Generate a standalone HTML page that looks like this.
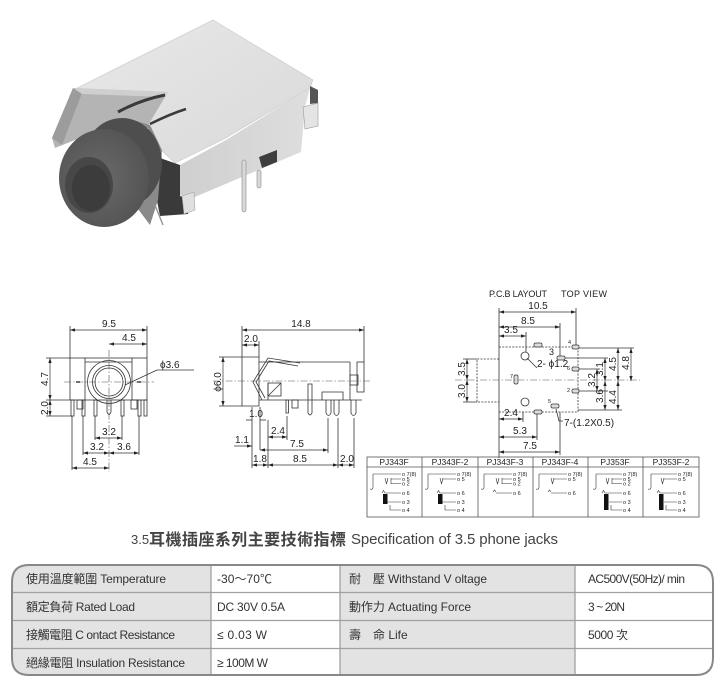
<!DOCTYPE html>
<html><head><meta charset="utf-8"><style>
html,body{margin:0;padding:0;background:#fff;}
svg{display:block;}
.t{font-family:"Liberation Sans",sans-serif;font-size:10px;fill:#222;}
.s{font-family:"Liberation Sans",sans-serif;font-size:5.5px;fill:#222;}
.h{font-family:"Liberation Sans",sans-serif;font-size:8.5px;fill:#222;}
.c{font-family:"Liberation Sans","Noto Sans CJK TC",sans-serif;font-size:12px;fill:#333;}
.ln{stroke:#333;stroke-width:0.8;fill:none;}
.cl{stroke:#555;stroke-width:0.6;fill:none;stroke-dasharray:7,2,1.5,2;}
.dl{stroke:#333;stroke-width:0.7;fill:none;marker-start:url(#ar);marker-end:url(#ar);}
</style></head><body>
<svg width="721" height="682" viewBox="0 0 721 682" xmlns="http://www.w3.org/2000/svg">
<defs>
<marker id="ar" viewBox="0 0 6 4" refX="6" refY="2" markerWidth="5" markerHeight="3.4" orient="auto-start-reverse" markerUnits="userSpaceOnUse"><path d="M0,0L6,2L0,4z" fill="#222"/></marker>
<linearGradient id="gt" x1="0" y1="0" x2="1" y2="1"><stop offset="0" stop-color="#e8e8e8"/><stop offset="1" stop-color="#d9d9d9"/></linearGradient>
<linearGradient id="gs" x1="0" y1="0" x2="1" y2="0"><stop offset="0" stop-color="#cfcfcf"/><stop offset="1" stop-color="#dedede"/></linearGradient>
<radialGradient id="gc" cx="0.45" cy="0.5" r="0.6"><stop offset="0" stop-color="#6a6a6a"/><stop offset="1" stop-color="#525252"/></radialGradient>
<clipPath id="tc"><path d="M29,565H696Q713,565 713,582V658Q713,675 696,675H29Q12,675 12,658V582Q12,565 29,565Z"/></clipPath>
</defs>

<!-- ===== PRODUCT PHOTO ===== -->
<g>
<polygon points="213,20 313,80 310,88 224,139 175,163 143,133 77,88" fill="url(#gt)" stroke="#c8c8c8" stroke-width="0.6"/>
<polygon points="180,165 226,140 310,88 305,107 303,130 301,152 190,199 180,195" fill="url(#gs)"/>
<polygon points="160,158 180,165 180,196 190,199 188,214 160,216 152,175" fill="#3a3a3a"/>
<polygon points="303,107 318,103 318,126 305,129" fill="#e4e4e4" stroke="#999" stroke-width="0.6"/>
<polygon points="310,86 318,90 318,103 310,104" fill="#555"/>
<polygon points="182,196 194,192 195,210 184,214" fill="#e0e0e0" stroke="#999" stroke-width="0.5"/>
<polygon points="259,157 277,150 277,162 262,168" fill="#3e3e3e"/>
<rect x="242" y="160" width="4" height="52" rx="2" fill="#d8d8d8" stroke="#888" stroke-width="0.6"/>
<rect x="257" y="170" width="4" height="18" rx="2" fill="#d8d8d8" stroke="#888" stroke-width="0.6"/>
<!-- front bracket -->
<polygon points="73,88 168,92 165,97 150,122 143,133 122,122 100,130 55,148 52,138" fill="#b4b4b4"/>
<polygon points="52,138 73,88 82,93 62,145" fill="#9c9c9c"/>
<polygon points="73,88 168,92 165,97 82,94" fill="#cfcfcf"/>
<path d="M118,112 Q140,100 165,95" stroke="#3a3a3a" stroke-width="3" fill="none"/>
<path d="M150,124 Q170,114 186,109" stroke="#3a3a3a" stroke-width="2.5" fill="none"/>
<polygon points="125,118 150,125 162,150 158,200 150,225 135,205 130,150" fill="#8a8a8a"/>
<polygon points="128,125 148,128 155,145 142,152 130,140" fill="#f0f0f0"/>
<path d="M155,205 L163,225" stroke="#999" stroke-width="1.5"/>
<ellipse cx="122" cy="163" rx="40" ry="45" fill="#4e4e4e"/>
<ellipse cx="104" cy="178" rx="45" ry="49" fill="url(#gc)"/>
<ellipse cx="89" cy="185" rx="24" ry="28" fill="#474747"/>
<ellipse cx="91" cy="188" rx="19" ry="23" fill="#3c3c3c"/>
</g>

<!-- ===== LEFT FRONT VIEW ===== -->
<g class="ln">
<path d="M70,326V358M147,326V358M46,358H70M46,400H70M46,416H72"/>
<rect x="70" y="358" width="77" height="42"/>
<path d="M85,358V400M132,358V400M85,362H132"/>
<circle cx="109" cy="382" r="21.5"/>
<circle cx="109" cy="382" r="16.5"/>
<circle cx="109" cy="382" r="14"/>
<path d="M76,382h4M137,382h4" stroke-width="2" stroke="#777"/>
<rect x="71" y="400" width="3" height="16"/>
<rect x="77" y="400" width="6" height="9"/>
<rect x="82" y="400" width="3" height="16"/>
<rect x="94" y="400" width="3" height="16"/>
<path d="M107,400V412Q109,417 111,412V400"/>
<rect x="121" y="400" width="3" height="16"/>
<rect x="131" y="400" width="6" height="9"/>
<rect x="138" y="400" width="3" height="16"/>
<rect x="144" y="400" width="3" height="16"/>
<path d="M72,416V470M83,416V455M95,416V440M122,416V440M139,416V455"/>
<path d="M125,385L157,370H194"/>
</g>
<path class="cl" d="M64,382H154M109,350V472"/>
<line class="dl" x1="70" y1="330" x2="147" y2="330"/>
<line class="dl" x1="109" y1="344" x2="147" y2="344"/>
<line class="dl" x1="50" y1="358" x2="50" y2="400"/>
<line class="dl" x1="50" y1="400" x2="50" y2="416"/>
<line class="dl" x1="95" y1="438" x2="122" y2="438"/>
<line class="dl" x1="83" y1="453" x2="109" y2="453"/>
<line class="dl" x1="109" y1="453" x2="139" y2="453"/>
<line class="dl" x1="72" y1="468" x2="109" y2="468"/>
<text class="t" x="109" y="327" text-anchor="middle">9.5</text>
<text class="t" x="129" y="341" text-anchor="middle">4.5</text>
<text class="t" x="160" y="368">ϕ3.6</text>
<text class="t" transform="translate(48,379) rotate(-90)" text-anchor="middle">4.7</text>
<text class="t" transform="translate(48,408) rotate(-90)" text-anchor="middle">2.0</text>
<text class="t" x="109" y="435" text-anchor="middle">3.2</text>
<text class="t" x="97" y="450" text-anchor="middle">3.2</text>
<text class="t" x="124" y="450" text-anchor="middle">3.6</text>
<text class="t" x="90" y="465" text-anchor="middle">4.5</text>

<!-- ===== SIDE VIEW ===== -->
<g class="ln">
<path d="M242,326V357M364,326V362M259,341V357M219,357H242M219,406H242"/>
<path d="M242,357H259V362M242,357V406H259V362"/>
<path d="M259,362H350M259,400H362M350,362V400"/>
<rect x="357" y="362" width="7" height="30"/>
<rect x="350" y="375" width="8" height="10"/>
<path d="M262,400L253,382L268,358L300,363M265,398L256,382L269,361L298,366"/>
<rect x="268" y="383" width="13" height="13"/>
<path d="M268,396L281,383"/>
<path d="M268,383V400"/>
<path d="M322,400V392H343V400"/>
<rect x="286" y="400" width="2.5" height="13"/>
<rect x="292" y="400" width="6" height="8"/>
<path d="M308,384V413Q310,417 312,413V384Z"/>
<path d="M326,400V413Q328.5,418 331,413V400M334,400V413Q336.5,418 339,413V400M351,400V413Q353.5,418 356,413V400"/>
<path d="M252,407V468M260,407V450M268,420V468M287,416V440M328,418V453M338,418V468M354,418V468"/>
</g>
<path class="cl" d="M213,381H370"/>
<line class="dl" x1="242" y1="330" x2="364" y2="330"/>
<line class="dl" x1="242" y1="345" x2="259" y2="345"/>
<line class="dl" x1="223" y1="357" x2="223" y2="406"/>
<line class="ln" x1="246" y1="420" x2="252" y2="420"/>
<line class="ln" x1="260" y1="420" x2="266" y2="420"/>
<line class="dl" x1="268" y1="437" x2="287" y2="437"/>
<line class="ln" x1="234" y1="446" x2="252" y2="446" marker-end="url(#ar)"/>
<line class="dl" x1="260" y1="450" x2="328" y2="450"/>
<line class="dl" x1="252" y1="465" x2="268" y2="465"/>
<line class="dl" x1="268" y1="465" x2="338" y2="465"/>
<line class="dl" x1="338" y1="465" x2="354" y2="465"/>
<text class="t" x="301" y="327" text-anchor="middle">14.8</text>
<text class="t" x="251" y="342" text-anchor="middle">2.0</text>
<text class="t" transform="translate(221,382) rotate(-90)" text-anchor="middle">ϕ6.0</text>
<text class="t" x="256" y="417" text-anchor="middle">1.0</text>
<text class="t" x="278" y="434" text-anchor="middle">2.4</text>
<text class="t" x="242" y="443" text-anchor="middle">1.1</text>
<text class="t" x="297" y="447" text-anchor="middle">7.5</text>
<text class="t" x="260" y="462" text-anchor="middle">1.8</text>
<text class="t" x="300" y="462" text-anchor="middle">8.5</text>
<text class="t" x="347" y="462" text-anchor="middle">2.0</text>

<!-- ===== PCB LAYOUT ===== -->
<text class="t" x="489" y="297" style="font-size:9px" textLength="58">P.C.B LAYOUT</text>
<text class="t" x="561" y="297" style="font-size:9px" textLength="46">TOP VIEW</text>
<g class="ln">
<path d="M499,308V458M576,308V347M560,323V358M526,332V352M523,412V422M537,412V440M560,412V455"/>
<path d="M499,347H578V412H499" stroke-dasharray="2,1.3"/>
<path d="M499,359H477V402H499" stroke-dasharray="2,1.3"/>
<path d="M463,359H477M463,402H477"/>
<circle cx="525" cy="356" r="4"/>
<circle cx="525" cy="402" r="4"/>
<path d="M527,358L537,368"/>
<path d="M556,409L559,421H563"/>
<path d="M578,348H634M565,358H608M578,369H600M578,391H608M578,410H622"/>
</g>
<g stroke="#333" stroke-width="0.7" fill="#ddd">
<rect x="534" y="343" width="8" height="4" rx="1.5"/>
<rect x="572" y="345" width="7" height="4" rx="1.5"/>
<rect x="557" y="356" width="8" height="4" rx="1.5"/>
<rect x="572" y="367" width="7" height="4" rx="1.5"/>
<rect x="514" y="375" width="4" height="9" rx="1.5"/>
<rect x="572" y="389" width="7" height="4" rx="1.5"/>
<rect x="551" y="404" width="8" height="4" rx="1.5"/>
<rect x="534" y="410" width="8" height="4" rx="1.5"/>
</g>
<path class="cl" d="M455,380H640"/>
<line class="dl" x1="499" y1="312" x2="576" y2="312"/>
<line class="dl" x1="499" y1="327" x2="560" y2="327"/>
<line class="dl" x1="499" y1="336" x2="526" y2="336"/>
<line class="dl" x1="467" y1="359" x2="467" y2="380"/>
<line class="dl" x1="467" y1="380" x2="467" y2="402"/>
<line class="dl" x1="499" y1="419" x2="523" y2="419"/>
<line class="dl" x1="499" y1="437" x2="537" y2="437"/>
<line class="dl" x1="499" y1="452" x2="560" y2="452"/>
<line class="dl" x1="597" y1="369" x2="597" y2="391"/>
<line class="dl" x1="605" y1="358" x2="605" y2="381"/>
<line class="dl" x1="605" y1="381" x2="605" y2="410"/>
<line class="dl" x1="618" y1="348" x2="618" y2="381"/>
<line class="dl" x1="618" y1="381" x2="618" y2="410"/>
<line class="dl" x1="631" y1="348" x2="631" y2="381"/>
<text class="t" x="538" y="309" text-anchor="middle">10.5</text>
<text class="t" x="528" y="324" text-anchor="middle">8.5</text>
<text class="t" x="511" y="333" text-anchor="middle">3.5</text>
<text class="t" transform="translate(465,369) rotate(-90)" text-anchor="middle">3.5</text>
<text class="t" transform="translate(465,391) rotate(-90)" text-anchor="middle">3.0</text>
<text class="t" x="511" y="416" text-anchor="middle">2.4</text>
<text class="t" x="520" y="434" text-anchor="middle">5.3</text>
<text class="t" x="530" y="449" text-anchor="middle">7.5</text>
<text class="t" x="537" y="367">2- ϕ1.2</text>
<text class="t" x="564" y="426">7-(1.2X0.5)</text>
<text class="t" x="549" y="355" style="font-size:9px">3</text>
<text class="s" x="568" y="344">4</text>
<text class="s" x="567" y="370">6</text>
<text class="s" x="567" y="392">2</text>
<text class="s" x="510" y="378">7</text>
<text class="s" x="548" y="403">5</text>
<text class="t" transform="translate(595,380) rotate(-90)" text-anchor="middle">3.2</text>
<text class="t" transform="translate(603,369) rotate(-90)" text-anchor="middle">3.1</text>
<text class="t" transform="translate(603,396) rotate(-90)" text-anchor="middle">3.6</text>
<text class="t" transform="translate(616,364) rotate(-90)" text-anchor="middle">4.5</text>
<text class="t" transform="translate(616,397) rotate(-90)" text-anchor="middle">4.4</text>
<text class="t" transform="translate(629,363) rotate(-90)" text-anchor="middle">4.8</text>

<!-- ===== SCHEMATIC TABLE ===== -->
<g stroke="#555" stroke-width="0.8" fill="none">
<rect x="367" y="457" width="332" height="60"/>
<path d="M367,467H699M422,457V517M478,457V517M533,457V517M588,457V517M643,457V517"/>
</g>
<g class="h" text-anchor="middle">
<text x="394" y="465">PJ343F</text>
<text x="450" y="465">PJ343F-2</text>
<text x="505" y="465">PJ343F-3</text>
<text x="560" y="465">PJ343F-4</text>
<text x="615" y="465">PJ353F</text>
<text x="671" y="465">PJ353F-2</text>
</g>
<g stroke="#333" stroke-width="0.6" fill="none">
<path d="M373,474V487q0,3 -3,2M373,474H401M385,478l1.5,6l1.5,-6M391,478V484M391,479H401M391,483.5H401M382,493l1.5,-2.5l1.5,2.5M385,493H401M387,502H401M390,505V510H401"/>
<path d="M428,474V487q0,3 -3,2M428,474H456M440,478l1.5,6l1.5,-6M443,479H456M437,493l1.5,-2.5l1.5,2.5M440,493H456M442,502H456M445,505V510H456"/>
<path d="M484,474V487q0,3 -3,2M484,474H512M496,478l1.5,6l1.5,-6M502,478V484M502,479H512M502,483.5H512M493,492l1.5,-2l1.5,2M496,493H512"/>
<path d="M539,474V487q0,3 -3,2M539,474H567M551,478l1.5,6l1.5,-6M554,479H567M548,492l1.5,-2l1.5,2M551,493H567"/>
<path d="M596,474V487q0,3 -3,2M596,474H622M606,478l1.5,6l1.5,-6M612,478V484M612,479H622M612,483.5H622M602,493l1.5,-2.5l1.5,2.5M605,493H622M609,502H622M611,505V510H622"/>
<path d="M651,474V487q0,3 -3,2M651,474H677M661,478l1.5,6l1.5,-6M664,479H677M657,493l1.5,-2.5l1.5,2.5M660,493H677M664,502H677M666,505V510H677"/>
</g>
<g fill="#111">
<rect x="383" y="494" width="4.5" height="10"/>
<rect x="438" y="494" width="4.5" height="10"/>
<rect x="604" y="494" width="4.5" height="16"/>
<rect x="659" y="494" width="4.5" height="16"/>
</g>
<g class="s">
<text x="402" y="476">o 7(8)</text><text x="402" y="481">o 5</text><text x="402" y="485.5">o 2</text><text x="402" y="495">o 6</text><text x="402" y="504">o 3</text><text x="402" y="512">o 4</text>
<text x="457" y="476">o 7(8)</text><text x="457" y="481">o 5</text><text x="457" y="495">o 6</text><text x="457" y="504">o 3</text><text x="457" y="512">o 4</text>
<text x="513" y="476">o 7(8)</text><text x="513" y="481">o 5</text><text x="513" y="485.5">o 2</text><text x="513" y="495">o 6</text>
<text x="568" y="476">o 7(8)</text><text x="568" y="481">o 5</text><text x="568" y="495">o 6</text>
<text x="623" y="476">o 7(8)</text><text x="623" y="481">o 5</text><text x="623" y="485.5">o 2</text><text x="623" y="495">o 6</text><text x="623" y="504">o 3</text><text x="623" y="512">o 4</text>
<text x="678" y="476">o 7(8)</text><text x="678" y="481">o 5</text><text x="678" y="495">o 6</text><text x="678" y="504">o 3</text><text x="678" y="512">o 4</text>
</g>

<!-- ===== TITLE ===== -->
<text x="131" y="544" style="font-family:'Liberation Sans',sans-serif;font-size:13px;fill:#444">3.5</text>
<text x="149" y="545" style="font-family:'Noto Sans CJK TC','Noto Sans CJK SC',sans-serif;font-size:16px;font-weight:bold;fill:#444" textLength="197">耳機插座系列主要技術指標</text>
<text x="351" y="544" style="font-family:'Liberation Sans',sans-serif;font-size:15px;fill:#444" textLength="207">Specification of 3.5 phone jacks</text>

<!-- ===== SPEC TABLE ===== -->
<g clip-path="url(#tc)">
<rect x="12" y="565" width="199" height="110" fill="#e3e3e3"/>
<rect x="211" y="565" width="129" height="110" fill="#fff"/>
<rect x="340" y="565" width="235" height="110" fill="#e3e3e3"/>
<rect x="575" y="565" width="138" height="110" fill="#fff"/>
</g>
<g stroke="#a0a0a0" stroke-width="1.3" fill="none">
<path d="M12,592.5H713M12,620.5H713M12,648.5H713M211,565V675M340,565V675M575,565V675"/>
</g>
<path d="M29,565H696Q713,565 713,582V658Q713,675 696,675H29Q12,675 12,658V582Q12,565 29,565Z" fill="none" stroke="#888" stroke-width="2"/>
<g class="c">
<text x="26" y="583" textLength="140">使用溫度範圍 Temperature</text>
<text x="217" y="583" textLength="55">-30～70℃</text>
<text x="349" y="583" textLength="138">耐　壓 Withstand V oltage</text>
<text x="588" y="583" textLength="97">AC500V(50Hz)/ min</text>
<text x="26" y="611" textLength="109">額定負荷  Rated Load</text>
<text x="217" y="611" textLength="68">DC  30V  0.5A</text>
<text x="349" y="611" textLength="122">動作力 Actuating Force</text>
<text x="588" y="611" textLength="37">3 ~ 20N</text>
<text x="26" y="639" textLength="149">接觸電阻  C ontact Resistance</text>
<text x="217" y="639" textLength="50">≤ 0.03 W</text>
<text x="349" y="639">壽　命 Life</text>
<text x="588" y="639" textLength="40">5000 次</text>
<text x="26" y="667" textLength="159">絕緣電阻  Insulation Resistance</text>
<text x="217" y="667" textLength="51">≥ 100M W</text>
</g>
</svg>
</body></html>
